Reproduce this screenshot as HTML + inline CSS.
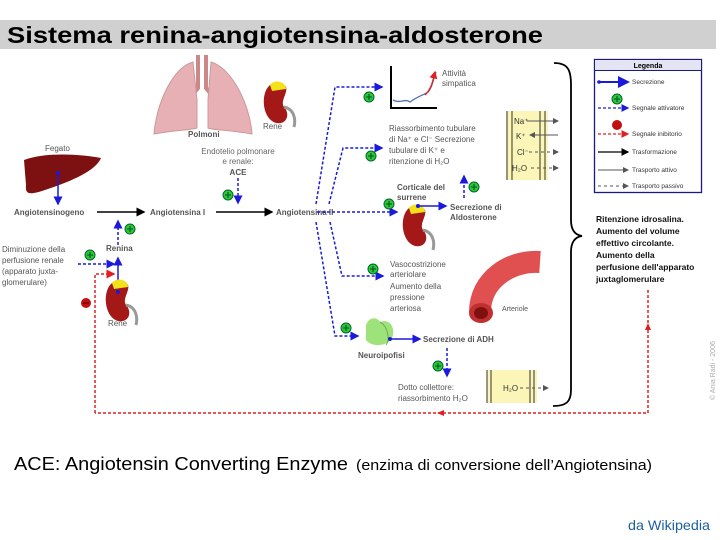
<!DOCTYPE html>
<html><head><meta charset="utf-8"><style>
html,body{margin:0;padding:0;background:#fff;width:720px;height:540px;overflow:hidden}
svg{display:block}
text{font-family:"Liberation Sans",sans-serif}
</style></head><body>
<svg width="720" height="540" viewBox="0 0 720 540" xmlns="http://www.w3.org/2000/svg">
<defs>
<marker id="ab" markerWidth="6" markerHeight="6" refX="5" refY="3" orient="auto"><path d="M0,0L6,3L0,6z" fill="#1a1adc"/></marker>
<marker id="ak" markerWidth="6" markerHeight="6" refX="5" refY="3" orient="auto"><path d="M0,0L6,3L0,6z" fill="#000"/></marker>
<marker id="ar" markerWidth="6" markerHeight="6" refX="5" refY="3" orient="auto"><path d="M0,0L6,3L0,6z" fill="#e02020"/></marker>
<marker id="ag" markerWidth="6" markerHeight="6" refX="5" refY="3" orient="auto"><path d="M0,0L6,3L0,6z" fill="#555"/></marker>
<g id="plus"><circle r="5" fill="#2fc82f" stroke="#063" stroke-width="1"/><path d="M-3,0h6M0,-3v6" stroke="#063" stroke-width="1.3"/></g>
<g id="kid"><path d="M6,6 C-4,14 -2,40 12,44 C24,46 26,34 20,28 C16,22 24,14 22,8 C18,2 10,2 6,6z" fill="#a51818"/><path d="M6,6 C10,0 22,2 22,10 L8,12z" fill="#f3e21a"/><path d="M20,28 C30,30 32,40 30,48" stroke="#999" stroke-width="3" fill="none"/></g>
</defs>
<!-- title -->
<rect x="0" y="20" width="716" height="29" fill="#d0d0d0"/>
<text x="7" y="43" font-size="23" font-weight="bold" textLength="536" lengthAdjust="spacingAndGlyphs">Sistema renina-angiotensina-aldosterone</text>

<!-- lungs -->
<path d="M198,55 v33 l-8,10" stroke="#c88" stroke-width="4" fill="none"/>
<path d="M206,55 v33 l8,10" stroke="#c88" stroke-width="4" fill="none"/>
<path d="M193,62 C172,68 156,105 154,134 C175,130 192,130 197,128 L197,100z" fill="#e6b0b5" stroke="#c99" />
<path d="M211,62 C232,68 250,105 252,134 C230,130 212,130 208,128 L208,100z" fill="#e6b0b5" stroke="#c99"/>
<use href="#kid" x="264" y="79"/>
<text x="263" y="129" font-size="8" fill="#555">Rene</text>
<text x="188" y="137" font-size="8" fill="#555" font-weight="bold">Polmoni</text>
<text x="238" y="154" font-size="8" fill="#666" text-anchor="middle">Endotelio polmonare</text>
<text x="238" y="164" font-size="8" fill="#666" text-anchor="middle">e renale:</text>
<text x="238" y="175" font-size="8" fill="#555" text-anchor="middle" font-weight="bold">ACE</text>
<path d="M238,178 V203" stroke="#1a1adc" stroke-width="1.5" stroke-dasharray="3,2" marker-end="url(#ab)"/>
<use href="#plus" x="228" y="195"/>

<!-- liver -->
<text x="45" y="151" font-size="8" fill="#555">Fegato</text>
<path d="M24,160 C45,152 80,154 101,158 C96,170 75,180 45,190 C30,195 25,195 26,185z" fill="#7d1010"/>
<path d="M58,173 V204" stroke="#1a1adc" stroke-width="1.5" marker-end="url(#ab)"/>
<circle cx="58" cy="173" r="2" fill="#1a1adc"/>

<text x="14" y="215" font-size="8" fill="#555" font-weight="bold">Angiotensinogeno</text>
<path d="M97,212 H144" stroke="#000" stroke-width="1.5" marker-end="url(#ak)"/>
<text x="150" y="215" font-size="8" fill="#555" font-weight="bold">Angiotensina I</text>
<path d="M216,212 H272" stroke="#000" stroke-width="1.5" marker-end="url(#ak)"/>
<text x="276" y="215" font-size="8" fill="#555" font-weight="bold">Angiotensina II</text>

<!-- renin -->
<text x="106" y="251" font-size="8" fill="#555" font-weight="bold">Renina</text>
<path d="M118,292 V258" stroke="#1a1adc" stroke-width="1.5" marker-end="url(#ab)"/>
<path d="M118,245 V221" stroke="#1a1adc" stroke-width="1.5" stroke-dasharray="3,2" marker-end="url(#ab)"/>
<use href="#plus" x="130" y="229"/>
<text x="2" y="252" font-size="8" fill="#555">Diminuzione della</text>
<text x="2" y="263" font-size="8" fill="#555">perfusione renale</text>
<text x="2" y="274" font-size="8" fill="#555">(apparato juxta-</text>
<text x="2" y="285" font-size="8" fill="#555">glomerulare)</text>
<use href="#plus" x="90" y="255"/>
<path d="M78,264 H114" stroke="#1a1adc" stroke-width="1.5" stroke-dasharray="3,2" marker-end="url(#ab)"/>
<path d="M95,413 V274 H114" stroke="#e02020" stroke-width="1.5" stroke-dasharray="3,2" fill="none" marker-end="url(#ar)"/>
<circle cx="86" cy="303" r="5" fill="#c01010"/><path d="M83,303h6" stroke="#600" stroke-width="1.2"/>
<use href="#kid" x="106" y="277"/>
<circle cx="118" cy="292" r="2" fill="#1a1adc"/>
<text x="108" y="326" font-size="8" fill="#555">Rene</text>

<!-- bottom red loop -->
<path d="M648,290 V413 H95" stroke="#e02020" stroke-width="1.5" stroke-dasharray="3,2" fill="none"/>
<path d="M651,330 L648,323 L645,330z" fill="#e02020"/>
<path d="M444,410 L437,413 L444,416z" fill="#e02020"/>

<!-- blue branches -->
<g stroke="#1a1adc" stroke-width="1.5" stroke-dasharray="3,2" fill="none">
<path d="M316,204 L335,87 H382" marker-end="url(#ab)"/>
<path d="M329,204 L343,148 H382" marker-end="url(#ab)"/>
<path d="M317,212 H397" marker-end="url(#ab)"/>
<path d="M330,222 L342,276 H383" marker-end="url(#ab)"/>
<path d="M316,222 L335,336 H358" marker-end="url(#ab)"/>
</g>
<use href="#plus" x="369" y="97"/>
<use href="#plus" x="371" y="156"/>
<use href="#plus" x="389" y="204"/>
<use href="#plus" x="373" y="269"/>
<use href="#plus" x="346" y="328"/>

<!-- sympathetic graph -->
<path d="M391,66 V108 H437" stroke="#000" stroke-width="2" fill="none"/>
<path d="M393,100 C400,104 405,98 410,102 C418,96 424,95 428,92 C432,88 433,80 436,72" stroke="#5070b0" stroke-width="1.3" fill="none"/>
<path d="M425,95 C432,88 433,80 435,72" stroke="#e02020" stroke-width="1.3" fill="none" marker-end="url(#ar)"/>
<text x="442" y="76" font-size="8" fill="#555">Attività</text>
<text x="442" y="86" font-size="8" fill="#555">simpatica</text>

<text x="389" y="131" font-size="8" fill="#555">Riassorbimento tubulare</text>
<text x="389" y="142" font-size="8" fill="#555">di Na⁺ e Cl⁻ Secrezione</text>
<text x="389" y="153" font-size="8" fill="#555">tubulare di K⁺ e</text>
<text x="389" y="164" font-size="8" fill="#555">ritenzione di H₂O</text>

<rect x="506" y="111" width="42" height="69" fill="#fbf6b8"/>
<path d="M507,111V180M512,111V180M540,111V180M545,111V180" stroke="#333" stroke-width="1"/>
<text x="514" y="124" font-size="8" fill="#333">Na⁺</text>
<text x="516" y="139" font-size="8" fill="#333">K⁺</text>
<text x="517" y="155" font-size="8" fill="#333">Cl⁻</text>
<text x="512" y="171" font-size="8" fill="#333">H₂O</text>
<path d="M527,121H558" stroke="#555" stroke-width="1" marker-end="url(#ag)"/>
<path d="M558,135H530" stroke="#555" stroke-width="1" marker-end="url(#ag)"/>
<path d="M529,152H558" stroke="#555" stroke-width="1" stroke-dasharray="3,3" marker-end="url(#ag)"/>
<path d="M531,168H558" stroke="#555" stroke-width="1" stroke-dasharray="3,3" marker-end="url(#ag)"/>

<!-- adrenal -->
<text x="397" y="190" font-size="8" fill="#555" font-weight="bold">Corticale del</text>
<text x="397" y="200" font-size="8" fill="#555" font-weight="bold">surrene</text>
<use href="#kid" x="403" y="202"/>
<path d="M418,206 H446" stroke="#1a1adc" stroke-width="1.5" marker-end="url(#ab)"/>
<circle cx="418" cy="206" r="2" fill="#1a1adc"/>
<text x="450" y="210" font-size="8" fill="#555" font-weight="bold">Secrezione di</text>
<text x="450" y="220" font-size="8" fill="#555" font-weight="bold">Aldosterone</text>
<path d="M464,198 V176" stroke="#1a1adc" stroke-width="1.5" stroke-dasharray="3,2" marker-end="url(#ab)"/>
<use href="#plus" x="474" y="187"/>

<text x="390" y="267" font-size="8" fill="#555">Vasocostrizione</text>
<text x="390" y="277" font-size="8" fill="#555">arteriolare</text>
<text x="390" y="289" font-size="8" fill="#555">Aumento della</text>
<text x="390" y="300" font-size="8" fill="#555">pressione</text>
<text x="390" y="311" font-size="8" fill="#555">arteriosa</text>

<!-- arteriole -->
<path d="M480,312 C480,280 510,260 540,262" stroke="#e05050" stroke-width="22" fill="none" stroke-linecap="butt"/>
<ellipse cx="481" cy="313" rx="12" ry="10" fill="#c03030"/>
<ellipse cx="481" cy="313" rx="7" ry="6" fill="#801010"/>
<text x="502" y="311" font-size="7" fill="#555">Arteriole</text>

<!-- neurohypophysis -->
<path d="M366,325 C370,315 378,318 380,322 C390,318 396,328 392,338 C388,346 372,348 366,340z" fill="#9de37a"/>
<path d="M380,322 C388,326 390,340 386,345" stroke="#6ab04a" fill="none"/>
<path d="M392,339 H420" stroke="#1a1adc" stroke-width="1.5" marker-end="url(#ab)"/>
<circle cx="390" cy="339" r="2" fill="#1a1adc"/>
<text x="358" y="358" font-size="8" fill="#555" font-weight="bold">Neuroipofisi</text>
<text x="423" y="342" font-size="8" fill="#555" font-weight="bold">Secrezione di ADH</text>
<path d="M447,348 V376" stroke="#1a1adc" stroke-width="1.5" stroke-dasharray="3,2" marker-end="url(#ab)"/>
<use href="#plus" x="438" y="366"/>

<text x="398" y="390" font-size="8" fill="#555">Dotto collettore:</text>
<text x="398" y="401" font-size="8" fill="#555">riassorbimento H₂O</text>
<rect x="487" y="370" width="50" height="33" fill="#fbf6b8"/>
<path d="M487,370V403M491,370V403M530,370V403M534,370V403" stroke="#333"/>
<text x="503" y="391" font-size="8" fill="#333">H₂O</text>
<path d="M520,388H548" stroke="#555" stroke-dasharray="3,3" marker-end="url(#ag)"/>

<!-- brace -->
<path d="M554,63 C568,63 571,70 571,85 V220 C571,230 575,235 582,236 C575,237 571,242 571,252 V390 C571,402 566,406 553,406" stroke="#000" stroke-width="1.8" fill="none"/>

<!-- legend -->
<rect x="594.5" y="59.5" width="107" height="133" fill="#fff" stroke="#1a1a80" stroke-width="1.3"/>
<rect x="595" y="60" width="106" height="10" fill="#e4e4f4"/>
<line x1="595" y1="70.5" x2="701" y2="70.5" stroke="#1a1a80"/>
<text x="648" y="68" font-size="7" text-anchor="middle" font-weight="bold">Legenda</text>
<path d="M598,82H628" stroke="#1a1adc" stroke-width="2" marker-end="url(#ab)"/><circle cx="599" cy="82" r="1.8" fill="#1a1adc"/>
<text x="632" y="84" font-size="6.5" fill="#333">Secrezione</text>
<use href="#plus" x="617" y="99"/>
<path d="M598,108H628" stroke="#1a1adc" stroke-width="1.3" stroke-dasharray="3,2" marker-end="url(#ab)"/>
<text x="632" y="110" font-size="6.5" fill="#333">Segnale attivatore</text>
<circle cx="617" cy="125" r="5" fill="#c01010"/>
<path d="M598,134H628" stroke="#e02020" stroke-width="1.3" stroke-dasharray="3,2" marker-end="url(#ar)"/>
<text x="632" y="136" font-size="6.5" fill="#333">Segnale inibitorio</text>
<path d="M598,152H628" stroke="#000" stroke-width="1.3" marker-end="url(#ak)"/>
<text x="632" y="154" font-size="6.5" fill="#333">Trasformazione</text>
<path d="M598,170H628" stroke="#555" stroke-width="1" marker-end="url(#ag)"/>
<text x="632" y="172" font-size="6.5" fill="#333">Trasporto attivo</text>
<path d="M598,186H628" stroke="#555" stroke-width="1" stroke-dasharray="3,3" marker-end="url(#ag)"/>
<text x="632" y="188" font-size="6.5" fill="#333">Trasporto passivo</text>

<g font-size="8.5" font-weight="bold" fill="#111">
<text x="596" y="222">Ritenzione idrosalina.</text>
<text x="596" y="234">Aumento del volume</text>
<text x="596" y="246">effettivo circolante.</text>
<text x="596" y="258">Aumento della</text>
<text x="596" y="270">perfusione dell'apparato</text>
<text x="596" y="282">juxtaglomerulare</text>
</g>
<text transform="translate(715,400) rotate(-90)" font-size="7" fill="#aaa">© Ania Radi - 2006</text>

<text x="14" y="470" font-size="18" fill="#000" textLength="334" lengthAdjust="spacingAndGlyphs">ACE: Angiotensin Converting Enzyme</text>
<text x="356" y="470" font-size="14.5" fill="#000" textLength="296" lengthAdjust="spacingAndGlyphs">(enzima di conversione dell’Angiotensina)</text>
<text x="628" y="530" font-size="14" fill="#1f5fa0" textLength="82" lengthAdjust="spacingAndGlyphs">da Wikipedia</text>
</svg>
</body></html>
